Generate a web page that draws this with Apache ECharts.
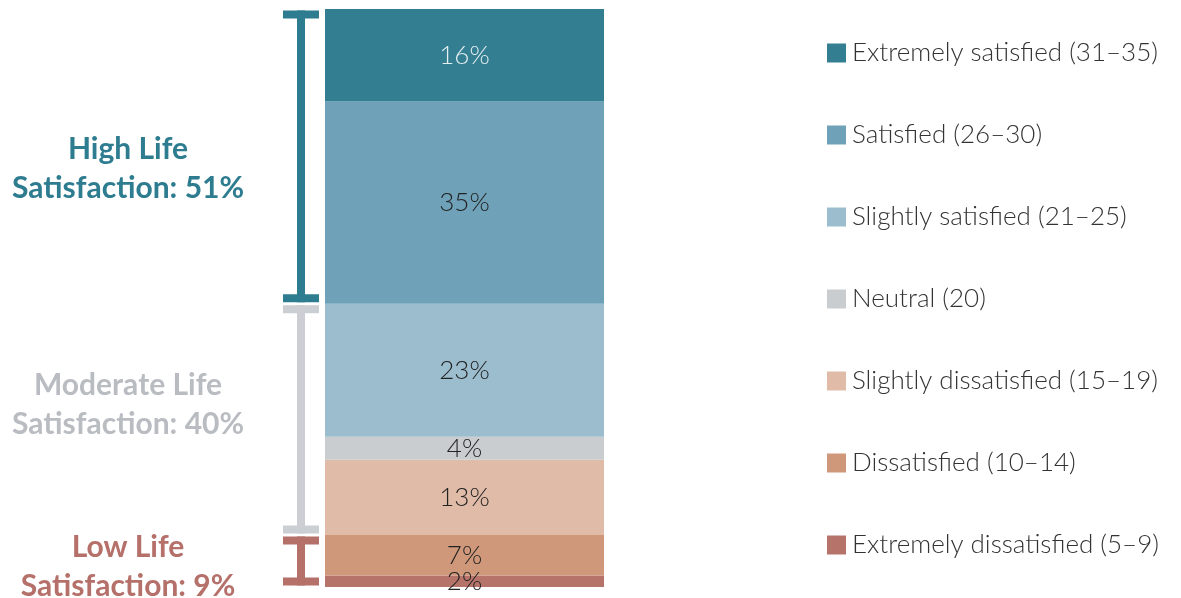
<!DOCTYPE html>
<html>
<head>
<meta charset="utf-8">
<script src="https://cdn.jsdelivr.net/npm/echarts@6/dist/echarts.min.js"></script>
<style>
html, body { margin: 0; padding: 0; background: #fff; }
#main { width: 1181px; height: 598px; }
</style>
</head>
<body>
<div id="main"></div>
<script>
// bottom to top, as stacked
var levels = ["Extremely dissatisfied (5–9)", "Dissatisfied (10–14)", "Slightly dissatisfied (15–19)",
	"Neutral (20)", "Slightly satisfied (21–25)", "Satisfied (26–30)", "Extremely satisfied (31–35)"];
var shares = [2, 7, 13, 4, 23, 35, 16];
var levelColors = ["#b6736a", "#cf987a", "#e0bba7", "#cacdd0", "#9bbdcd", "#6fa1b8", "#337e91"];

// groups: [from, to] in percent, label
var groupNames = ["Low Life\nSatisfaction: 9%", "Moderate Life\nSatisfaction: 40%", "High Life\nSatisfaction: 51%"];
var groupRanges = [[0, 9], [9, 49], [49, 100]];
var groupColors = ["#b5706a", "#cbced2", "#2e7c90"];
var groupTextColors = ["#b5706a", "#b9bcc1", "#2e7c90"];
// vertical nudge of each group label from its bracket middle (px)
var groupLabelShift = [6, -15, 12];

var fontFamily = "Lato, 'Noto Sans', sans-serif";

var series = [];
for (var i = 0; i < levels.length; i++) {
	series.push({
		name : levels[i],
		type : "bar",
		stack : "all",
		barWidth : "100%",
		data : [shares[i]],
		itemStyle : { color : levelColors[i] },
		label : {
			show : true,
			position : "inside",
			formatter : "{c}%",
			fontFamily : fontFamily,
			fontWeight : 300,
			fontSize : 26,
			color : i == levels.length - 1 ? "#e6eff2" : "#222"
		},
		emphasis : { disabled : true }
	});
}

var bracketData = [];
for (var g = 0; g < groupRanges.length; g++) {
	bracketData.push([groupRanges[g][0], groupRanges[g][1], g]);
}

series.push({
	type : "custom",
	data : bracketData,
	silent : true,
	z : 10,
	renderItem : function (params, api) {
		var g = api.value(2);
		var bottom = api.coord([0, api.value(0)]);
		var top = api.coord([0, api.value(1)]);
		var barW = api.size([1, 0])[0];
		var barLeft = bottom[0] - barW / 2;
		var cx = barLeft - 24;
		var y1 = top[1] + 1.5, y2 = bottom[1] - 1.5;
		var col = groupColors[g];
		return {
			type : "group",
			children : [
				{ type : "rect", shape : { x : cx - 18, y : y1, width : 36, height : 8 }, style : { fill : col } },
				{ type : "rect", shape : { x : cx - 18, y : y2 - 8, width : 36, height : 8 }, style : { fill : col } },
				{ type : "rect", shape : { x : cx - 4, y : y1, width : 8, height : y2 - y1 }, style : { fill : col } },
				{
					type : "text",
					style : {
						text : groupNames[g],
						x : barLeft - 197,
						y : (y1 + y2) / 2 + groupLabelShift[g],
						align : "center",
						verticalAlign : "middle",
						fill : groupTextColors[g],
						fontFamily : fontFamily,
						fontWeight : "bold",
						fontSize : 30,
						lineHeight : 39
					}
				}
			]
		};
	}
});

var legendNames = levels.slice().reverse();

var option = {
	animation : false,
	grid : { left : 325, top : 9, width : 279, height : 578 },
	xAxis : { type : "category", data : ["all"], show : false },
	yAxis : { type : "value", min : 0, max : 100, show : false },
	legend : {
		orient : "vertical",
		left : 822,
		top : 35,
		data : legendNames,
		icon : "rect",
		itemWidth : 19,
		itemHeight : 19,
		itemGap : 56,
		selectedMode : false,
		textStyle : {
			fontFamily : fontFamily,
			fontWeight : 300,
			fontSize : 26,
			lineHeight : 26,
			color : "#333",
			padding : [0, 0, 0, 1]
		}
	},
	series : series
};

var myChart = echarts.init(document.getElementById("main"));
myChart.setOption(option);
</script>
</body>
</html>
